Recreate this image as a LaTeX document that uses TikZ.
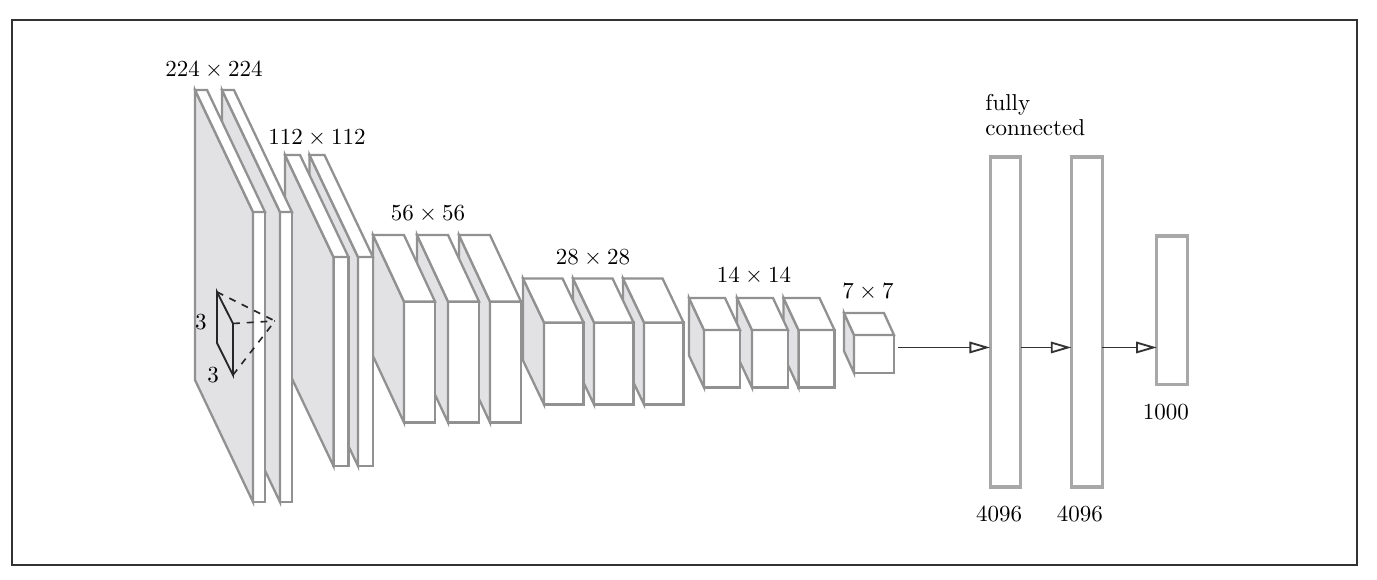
\documentclass[tikz,border=0pt]{standalone}
\usetikzlibrary{arrows.meta}

\definecolor{edgegray}{RGB}{145,145,145}
\definecolor{sidegray}{RGB}{226,226,229}
\definecolor{fcgray}{RGB}{168,168,168}
\definecolor{framegray}{RGB}{50,50,50}

\tikzset{
  frontface/.style={draw=edgegray,fill=white,line width=1pt,inner sep=0pt,outer sep=0pt},
  sideface/.style={draw=edgegray,fill=sidegray,line width=1pt},
  topface/.style={draw=edgegray,fill=white,line width=1pt},
  fclayer/.style={draw=fcgray,fill=white,line width=1.4pt,minimum width=0.47cm,inner sep=0pt,outer sep=0pt},
  fcarrow/.style={draw=black!80,line width=0.8pt,-{Triangle[open,length=9pt,width=5pt]}},
  kernel/.style={draw=black!85,line width=0.8pt},
}

% name, x, y, width, height, depth x, depth y
\newcommand{\convbox}[7]{
  \node[frontface,minimum width=#4cm,minimum height=#5cm,anchor=south west] (#1) at (#2,#3) {};
  \draw[sideface] (#1.north west) -- ++(-#6,#7) -- ++(0,-#5) -- (#1.south west) -- cycle;
  \draw[topface] (#1.north west) -- ++(-#6,#7) -- ++(#4,0) -- (#1.north east) -- cycle;
}

\begin{document}
\begin{tikzpicture}

\useasboundingbox (-0.183,-0.229) rectangle (20.859,8.634);
\draw[framegray,line width=0.7pt] (0,0) rectangle (20.553,8.328);

% 7 x 7
\convbox{b14}{12.867}{2.934}{0.611}{0.581}{0.153}{0.336}
\node (lab7) at (13.081,4.172) {$7\times 7$};

% 14 x 14
\convbox{b13}{12.019}{2.712}{0.550}{0.879}{0.229}{0.489}
\convbox{b12}{11.308}{2.712}{0.550}{0.879}{0.229}{0.489}
\convbox{b11}{10.575}{2.712}{0.550}{0.879}{0.229}{0.489}
\node (lab14) at (11.339,4.416) {$14\times 14$};

% 28 x 28
\convbox{b10}{9.658}{2.453}{0.604}{1.253}{0.321}{0.672}
\convbox{b9}{8.894}{2.453}{0.604}{1.253}{0.321}{0.672}
\convbox{b8}{8.130}{2.453}{0.604}{1.253}{0.321}{0.672}
\node (lab28) at (8.878,4.691) {$28\times 28$};

% 56 x 56
\convbox{b7}{7.304}{2.178}{0.474}{1.849}{0.474}{1.016}
\convbox{b6}{6.663}{2.178}{0.474}{1.849}{0.474}{1.016}
\convbox{b5}{5.990}{2.178}{0.474}{1.849}{0.474}{1.016}
\node (lab56) at (6.357,5.364) {$56\times 56$};

% 112 x 112
\convbox{b4}{5.287}{1.513}{0.229}{3.194}{0.741}{1.559}
\convbox{b3}{4.913}{1.513}{0.229}{3.194}{0.741}{1.559}
\node (lab112) at (4.661,6.525) {$112\times 112$};

% 224 x 224
\convbox{b2}{4.095}{0.963}{0.183}{4.432}{0.886}{1.864}
\convbox{b1}{3.683}{0.963}{0.183}{4.432}{0.886}{1.864}
\node (lab224) at (3.087,7.564) {$224\times 224$};

% Kernel
\coordinate (k1) at (3.133,4.172);
\coordinate (k2) at (3.377,3.690);
\coordinate (k3) at (3.377,2.903);
\coordinate (k4) at (3.133,3.392);
\coordinate (apex) at (4.019,3.729);
\draw[kernel] (k1) -- (k2) -- (k3) -- (k4) -- cycle;
\draw[kernel,dashed,line width=0.7pt] (k1) -- (apex) (k2) -- (apex) (k3) -- (apex);
\node (kh) at (2.888,3.713) {3};
\node (kw) at (3.072,2.903) {3};

% Fully connected
\node[fclayer,minimum height=5.043cm] (fcA) at (15.182,3.713) {};
\node[fclayer,minimum height=5.043cm] (fcB) at (16.425,3.713) {};
\node[fclayer,minimum height=2.267cm] (fcC) at (17.729,3.895) {};
\node[anchor=west,align=left,inner sep=0pt] (fclab) at (14.869,6.877) {fully\\[-1pt]connected};
\node (nA) at (15.083,0.779) {4096};
\node (nB) at (16.320,0.779) {4096};
\node (nC) at (17.634,2.338) {1000};

\coordinate (arrowline) at (0,3.324);
\draw[fcarrow,shorten <=0.06cm] (b14.east |- arrowline) -- (fcA.west |- arrowline);
\draw[fcarrow] (fcA.east |- arrowline) -- (fcB.west |- arrowline);
\draw[fcarrow] (fcB.east |- arrowline) -- (fcC.west |- arrowline);

\end{tikzpicture}
\end{document}
